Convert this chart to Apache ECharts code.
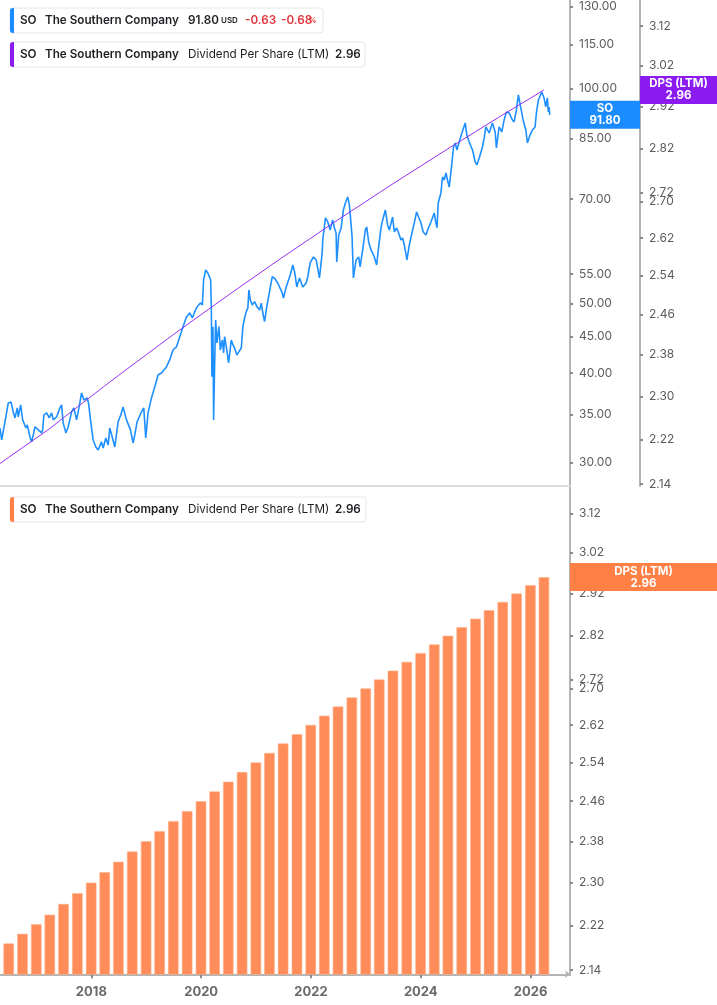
<!DOCTYPE html>
<html><head><meta charset="utf-8">
<script src="https://cdn.jsdelivr.net/npm/echarts@6/dist/echarts.min.js"></script>
<style>html,body{margin:0;padding:0;background:#fff}#c{width:717px;height:1005px}</style>
</head><body><div id="c"></div>
<script>
// ---- data ----
const priceYears = [
2016.336,2016.367,2016.427,2016.487,2016.536,2016.578,2016.609,2016.651,2016.669,2016.713,2016.749,2016.809,2016.833,2016.882,2016.913,2016.942,2016.973,
2017.033,2017.095,2017.113,2017.136,2017.186,2017.233,2017.276,2017.306,2017.367,2017.427,2017.458,2017.487,2017.536,2017.578,2017.640,2017.682,2017.731,2017.778,2017.822,2017.864,2017.924,2017.949,2017.985,
2018.033,2018.082,2018.124,2018.185,2018.215,2018.264,2018.306,2018.336,2018.385,2018.427,2018.487,2018.536,2018.578,2018.640,2018.713,2018.760,2018.791,2018.833,2018.913,2018.955,2018.991,
2019.033,2019.095,2019.155,2019.215,2019.276,2019.367,2019.427,2019.487,2019.549,2019.609,2019.669,2019.731,2019.791,2019.840,2019.882,2019.924,2019.985,
2020.022,2020.045,2020.082,2020.124,2020.173,2020.186,2020.196,2020.215,2020.227,2020.245,2020.264,2020.287,2020.324,2020.349,2020.385,2020.409,2020.427,2020.458,2020.500,2020.549,2020.578,2020.609,2020.651,2020.687,2020.731,2020.760,2020.791,2020.822,2020.851,2020.869,2020.895,2020.931,2020.973,
2021.015,2021.064,2021.095,2021.124,2021.155,2021.196,2021.245,2021.295,2021.336,2021.397,2021.427,2021.476,2021.500,2021.549,2021.622,2021.669,2021.706,2021.742,2021.791,2021.851,2021.913,2021.942,2021.985,
2022.045,2022.095,2022.155,2022.204,2022.215,2022.264,2022.306,2022.349,2022.396,2022.427,2022.458,2022.469,2022.506,2022.549,2022.591,2022.627,2022.669,2022.700,2022.731,2022.749,2022.773,2022.822,2022.869,2022.895,2022.942,2022.991,
2023.015,2023.051,2023.095,2023.155,2023.196,2023.233,2023.276,2023.306,2023.355,2023.396,2023.427,2023.487,2023.518,2023.560,2023.596,2023.640,2023.669,2023.700,2023.749,2023.791,2023.840,2023.882,2023.924,2023.960,
2024.004,2024.045,2024.095,2024.124,2024.185,2024.245,2024.276,2024.295,2024.318,2024.367,2024.396,2024.427,2024.458,2024.487,2024.518,2024.560,2024.596,2024.627,2024.658,2024.700,2024.749,2024.809,2024.840,2024.882,2024.942,2024.991,
2025.022,2025.064,2025.124,2025.155,2025.185,2025.245,2025.306,2025.355,2025.378,2025.427,2025.476,2025.518,2025.560,2025.609,2025.669,2025.700,2025.742,2025.778,2025.822,2025.864,2025.913,2025.942,2025.991,
2026.033,2026.082,2026.106,2026.142,2026.204,2026.245,2026.276,2026.306,2026.324,2026.336,2026.349
];
const priceValues = [
33.52,32.25,34.18,36.33,36.45,35.29,34.62,35.75,34.73,36.10,34.40,33.52,33.85,32.57,32.05,32.78,33.63,
33.31,32.99,33.31,34.95,35.18,34.62,35.18,34.40,34.73,35.75,36.10,34.07,32.99,33.63,35.29,35.75,34.40,35.87,37.52,36.68,36.92,36.33,34.40,
32.25,31.53,31.23,32.05,31.43,32.46,31.74,33.52,32.46,31.53,34.18,34.95,35.87,34.40,33.31,31.94,32.78,34.18,35.29,35.75,32.46,
35.18,36.92,38.25,39.75,40.01,40.79,41.72,43.08,43.50,44.93,46.39,47.91,48.53,47.76,48.69,49.48,50.12,
49.80,53.97,55.73,55.14,53.97,49.00,39.54,46.44,34.40,40.83,47.45,44.07,46.44,43.08,44.49,42.67,44.97,43.55,41.32,44.49,43.78,43.36,42.40,42.17,43.36,46.44,47.76,48.74,49.32,52.26,50.60,49.80,50.33,
49.53,49.00,50.07,48.48,47.19,49.53,51.97,54.54,54.26,53.40,53.62,51.76,50.93,52.77,54.84,56.64,55.20,52.77,54.32,52.77,53.45,54.49,57.00,
58.11,57.56,54.32,58.87,61.38,65.88,65.04,63.39,65.46,63.80,62.78,57.19,62.38,63.80,67.60,69.14,70.49,68.70,64.42,61.98,54.32,57.56,58.11,56.27,59.44,63.39,
64.00,60.99,59.44,58.11,56.64,60.01,63.80,65.46,67.60,64.42,63.39,66.09,62.98,63.80,62.78,61.38,61.78,60.40,57.56,60.40,62.78,64.83,67.17,66.09,
64.83,62.98,62.38,63.39,65.04,66.95,64.83,63.80,69.14,71.40,75.17,74.45,76.15,74.45,72.79,77.63,82.79,83.86,82.00,84.13,86.61,89.44,86.05,84.13,82.00,78.89,
78.13,79.91,82.79,85.22,88.29,86.61,89.44,86.88,82.52,88.29,86.88,90.30,92.66,92.36,90.30,89.72,93.26,97.87,93.86,90.30,87.44,83.86,86.05,
87.44,88.29,92.36,96.31,98.82,96.93,94.16,96.93,92.66,94.16,91.80
];
const dpsDates = [
'2016-03-31','2016-06-30','2016-09-30','2016-12-31',
'2017-03-31','2017-06-30','2017-09-30','2017-12-31',
'2018-03-31','2018-06-30','2018-09-30','2018-12-31',
'2019-03-31','2019-06-30','2019-09-30','2019-12-31',
'2020-03-31','2020-06-30','2020-09-30','2020-12-31',
'2021-03-31','2021-06-30','2021-09-30','2021-12-31',
'2022-03-31','2022-06-30','2022-09-30','2022-12-31',
'2023-03-31','2023-06-30','2023-09-30','2023-12-31',
'2024-03-31','2024-06-30','2024-09-30','2024-12-31',
'2025-03-31','2025-06-30','2025-09-30','2025-12-31',
'2026-03-31'
];
const dpsValues = [
2.17,2.1875,2.205,2.2225,
2.24,2.26,2.28,2.30,
2.32,2.34,2.36,2.38,
2.40,2.42,2.44,2.46,
2.48,2.50,2.52,2.54,
2.56,2.58,2.60,2.62,
2.64,2.66,2.68,2.70,
2.72,2.74,2.76,2.78,
2.80,2.82,2.84,2.86,
2.88,2.90,2.92,2.94,
2.96
];
const xTickYears = [2018, 2020, 2022, 2024, 2026];
const priceTicks = [130, 115, 100, 85, 70, 55, 50, 45, 40, 35, 30];
const dpsTicks = [3.12, 3.02, 2.92, 2.82, 2.72, 2.70, 2.62, 2.54, 2.46, 2.38, 2.30, 2.22, 2.14];
const lastPrice = 91.80, priceChange = '-0.63', priceChangePct = '-0.68';
const lastDps = 2.96;

// ---- helpers ----
const L = Math.log10;
function toYear(s){
  const d = Date.parse(s + 'T00:00:00Z');
  const y = +s.slice(0,4);
  const a = Date.UTC(y,0,1), b = Date.UTC(y+1,0,1);
  return y + (d - a) / (b - a);
}
const FONT = 'Inter, "Noto Sans", sans-serif';
const X_MIN = 2016.3364, X_MAX = 2026.718;

function logAxis(gridIndex, ticks, lo, hi, offset){
  const tv = ticks.map(L);
  return {
    type: 'value', gridIndex, position: 'right', offset,
    min: L(lo), max: L(hi), scale: true,
    splitLine: {show: false},
    axisLine: {show: true, lineStyle: {color: '#b4b4b4', width: 2}},
    axisTick: {show: true, customValues: tv, length: 3, lineStyle: {color: '#8a8a8a', width: 2}},
    axisLabel: {show: true, customValues: tv, margin: 9, color: '#5c5c5c', fontSize: 12, fontFamily: FONT,
      formatter: v => Math.pow(10, v).toFixed(2)}
  };
}

const chart = echarts.init(document.getElementById('c'), null, {renderer: 'canvas'});
const option = {
  animation: false,
  backgroundColor: '#fff',
  grid: [
    {left: 0, right: 147, top: 0, bottom: 519},
    {left: 0, right: 147, top: 487, bottom: 30.7}
  ],
  xAxis: [
    {type: 'value', gridIndex: 0, min: X_MIN, max: X_MAX,
     splitLine: {show: false}, axisTick: {show: false}, axisLabel: {show: false},
     axisLine: {show: true, onZero: false, lineStyle: {color: '#dcdcdc', width: 2}}},
    {type: 'value', gridIndex: 1, min: X_MIN, max: X_MAX,
     splitLine: {show: false},
     axisLine: {show: true, onZero: false, symbol: ['none', 'arrow'], symbolSize: [6, 5], lineStyle: {color: '#b4b4b4', width: 2}},
     axisTick: {show: true, customValues: xTickYears, length: 4, lineStyle: {color: '#8a8a8a', width: 2}},
     axisLabel: {show: true, customValues: xTickYears, margin: 11, color: '#6a6a6a', fontSize: 13, fontWeight: 'bold', fontFamily: FONT,
       formatter: v => String(Math.round(v))}}
  ],
  yAxis: [
    logAxis(0, priceTicks, 27.81, 132.84, 0),
    logAxis(0, dpsTicks, 2.1365, 3.1875, 70),
    logAxis(1, dpsTicks, 2.1325, 3.1885, 0)
  ],
  series: [
    {type: 'line', xAxisIndex: 0, yAxisIndex: 0, showSymbol: false, z: 3,
     lineStyle: {color: '#1e8fff', width: 1.6},
     data: priceYears.map((t, i) => [t, L(priceValues[i])])},
    {type: 'line', xAxisIndex: 0, yAxisIndex: 1, showSymbol: false, z: 4,
     lineStyle: {color: '#9a2ef5', width: 1},
     data: dpsDates.map((d, i) => [toYear(d), L(dpsValues[i])])},
    {type: 'bar', xAxisIndex: 1, yAxisIndex: 2, barWidth: 10.5, clip: true,
     itemStyle: {color: '#ff8c59', borderColor: '#ffb08a', borderWidth: 0.6},
     data: dpsDates.slice(1).map((d, i) => [toYear(d), L(dpsValues[i + 1])])}
  ]
};
chart.setOption(option);

// ---- annotations (legend boxes and last-value badges) ----
const FS = 11.7;
function legendBox(x, y, w, color, parts){
  const els = [
    {type: 'rect', shape: {x, y, width: w, height: 25, r: 3}, style: {fill: '#fff', stroke: '#e6e6e6', lineWidth: 1}, z: 20},
    {type: 'rect', shape: {x, y, width: 4, height: 25, r: [3, 0, 0, 3]}, style: {fill: color}, z: 21}
  ];
  parts.forEach(p => els.push({type: 'text', x: p.x, y: y + 12.5, z: 22,
    style: {text: p.t, fill: p.c || '#1f1f24', font: (p.w || 600) + ' ' + (p.s || FS) + 'px ' + FONT, verticalAlign: 'middle', align: 'left'}}));
  return els;
}
function badge(x, w, yc, color, text){
  return [
    {type: 'rect', shape: {x, y: yc - 14, width: w, height: 28}, style: {fill: color}, z: 30},
    {type: 'text', x: x + w / 2, y: yc, z: 31,
     style: {text, fill: '#fff', font: 'bold 11.5px ' + FONT, align: 'center', verticalAlign: 'middle', lineHeight: 12}}
  ];
}
const red = '#e2343a';
const yPrice = chart.convertToPixel({yAxisIndex: 0}, L(lastPrice));
const yDpsTop = chart.convertToPixel({yAxisIndex: 1}, L(lastDps));
const yDpsBot = chart.convertToPixel({yAxisIndex: 2}, L(lastDps));
const graphics = [].concat(
  legendBox(10, 8, 313, '#1a8cff', [
    {x: 20, t: 'SO'}, {x: 45, t: 'The Southern Company'}, {x: 188, t: lastPrice.toFixed(2)},
    {x: 221, t: 'USD', s: 8}, {x: 245, t: priceChange, c: red}, {x: 281, t: priceChangePct, c: red}, {x: 308.5, t: '%', c: red, s: 8}
  ]),
  legendBox(10, 42, 355, '#8c1bf2', [
    {x: 20, t: 'SO'}, {x: 45, t: 'The Southern Company'}, {x: 188, t: 'Dividend Per Share (LTM)', w: 400}, {x: 335, t: lastDps.toFixed(2)}
  ]),
  legendBox(10, 497, 356, '#ff7f45', [
    {x: 20, t: 'SO'}, {x: 45, t: 'The Southern Company'}, {x: 188, t: 'Dividend Per Share (LTM)', w: 400}, {x: 335, t: lastDps.toFixed(2)}
  ]),
  badge(570, 70, yPrice, '#1a8cff', 'SO\n' + lastPrice.toFixed(2)),
  badge(640, 77, yDpsTop, '#8c1bf2', 'DPS (LTM)\n' + lastDps.toFixed(2)),
  badge(570, 147, yDpsBot, '#ff7f45', 'DPS (LTM)\n' + lastDps.toFixed(2))
);
chart.setOption({graphic: {elements: graphics}});
</script>
</body></html>
